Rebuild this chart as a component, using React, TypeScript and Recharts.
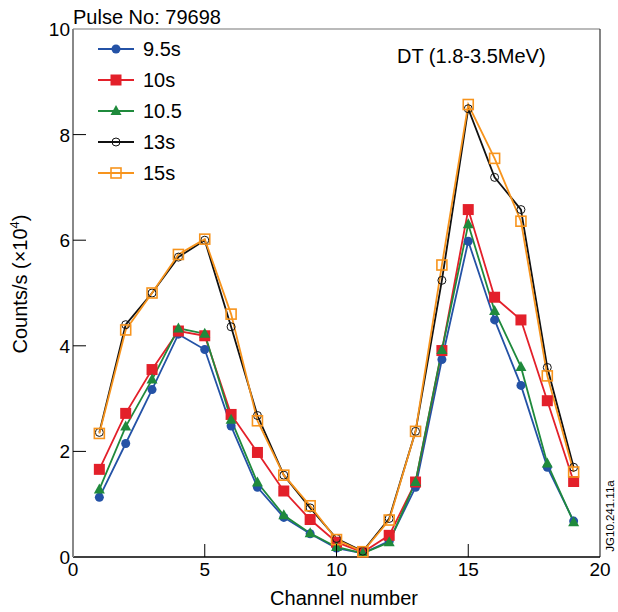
import { LineChart, Line, XAxis, YAxis, ReferenceLine } from 'recharts';

const channels = [1, 2, 3, 4, 5, 6, 7, 8, 9, 10, 11, 12, 13, 14, 15, 16, 17, 18, 19];
const s95 = [1.13, 2.15, 3.17, 4.22, 3.93, 2.48, 1.32, 0.75, 0.44, 0.17, 0.07, 0.3, 1.32, 3.74, 5.98, 4.49, 3.25, 1.7, 0.68];
const s10 = [1.66, 2.72, 3.55, 4.28, 4.19, 2.7, 1.98, 1.25, 0.71, 0.28, 0.09, 0.41, 1.42, 3.91, 6.58, 4.92, 4.49, 2.96, 1.43];
const s105 = [1.28, 2.47, 3.36, 4.33, 4.23, 2.6, 1.41, 0.79, 0.45, 0.19, 0.07, 0.28, 1.42, 3.92, 6.3, 4.66, 3.6, 1.77, 0.66];
const s13 = [2.36, 4.4, 5.0, 5.68, 6.0, 4.36, 2.68, 1.55, 0.93, 0.35, 0.11, 0.73, 2.38, 5.24, 8.49, 7.19, 6.58, 3.59, 1.7];
const s15 = [2.34, 4.3, 5.0, 5.73, 6.02, 4.6, 2.58, 1.55, 0.97, 0.33, 0.1, 0.7, 2.38, 5.53, 8.57, 7.55, 6.36, 3.43, 1.61];
const xTicks = [0, 5, 10, 15, 20];
const yTicks = [0, 2, 4, 6, 8, 10];

const data = channels.map((c, i) => ({ ch: c, a: s95[i], b: s10[i], c: s105[i], d: s13[i], e: s15[i] }));

const FONT = '"Liberation Sans", Arial, Helvetica, sans-serif';

type Shape = 'dot' | 'square' | 'tri' | 'ring' | 'box';

function marker(shape: Shape, color: string, x: number, y: number, key?: string | number) {
  switch (shape) {
    case 'dot':
      return <circle key={key} cx={x} cy={y} r={4.5} fill={color} />;
    case 'square':
      return <rect key={key} x={x - 5.5} y={y - 5.5} width={11} height={11} fill={color} />;
    case 'tri':
      return <polygon key={key} points={`${x},${y - 6} ${x - 5.5},${y + 4} ${x + 5.5},${y + 4}`} fill={color} />;
    case 'ring':
      return <circle key={key} cx={x} cy={y} r={4} fill="none" stroke={color} strokeWidth={1} />;
    default:
      return <rect key={key} x={x - 5} y={y - 5} width={10} height={10} fill="none" stroke={color} strokeWidth={1.6} />;
  }
}

const series: { key: string; name: string; color: string; shape: Shape }[] = [
  { key: 'a', name: '9.5s', color: '#2452a6', shape: 'dot' },
  { key: 'b', name: '10s', color: '#e3202a', shape: 'square' },
  { key: 'c', name: '10.5', color: '#1f8a3c', shape: 'tri' },
  { key: 'd', name: '13s', color: '#111111', shape: 'ring' },
  { key: 'e', name: '15s', color: '#f7941d', shape: 'box' },
];

const YTick = (props: any) => {
  const { x, y, payload } = props;
  const v = payload.value;
  return (
    <g>
      {v > 0 && v < 10 && <line x1={x} x2={x + 13} y1={y} y2={y} stroke="#000" strokeWidth={1} />}
      <text x={x - 3} y={y + 7} textAnchor="end" fontSize={19} fontFamily={FONT} fill="#000">
        {v}
      </text>
    </g>
  );
};

const XTick = (props: any) => {
  const { x, y, payload } = props;
  const v = payload.value;
  return (
    <g>
      {v > 0 && v < 20 && <line x1={x} x2={x} y1={y} y2={y - 13} stroke="#000" strokeWidth={1} />}
      <text x={x} y={y + 19} textAnchor="middle" fontSize={19} fontFamily={FONT} fill="#000">
        {v}
      </text>
    </g>
  );
};

// legend drawn as plain svg in the top-left corner of the plot
const LegendBox = () => (
  <g fontFamily={FONT} fontSize={20} fill="#000">
    {series.map((s, i) => {
      const y = 49 + i * 31;
      return (
        <g key={s.key}>
          <line x1={98} x2={134} y1={y} y2={y} stroke={s.color} strokeWidth={1.8} />
          {marker(s.shape, s.color, 116, y)}
          <text x={143} y={y + 7}>
            {s.name}
          </text>
        </g>
      );
    })}
  </g>
);

export default function App() {
  return (
    <div style={{ position: 'absolute', left: 0, top: 0, width: 618, height: 612, background: '#fff' }}>
      <LineChart width={618} height={612} data={data} margin={{ top: 29, right: 18, bottom: 25, left: 33 }}>
        <XAxis
          dataKey="ch"
          type="number"
          domain={[0, 20]}
          ticks={xTicks}
          height={30}
          tickLine={false}
          tickSize={0}
          tickMargin={0}
          axisLine={false}
          tick={<XTick />}
        />
        <YAxis
          type="number"
          domain={[0, 10]}
          ticks={yTicks}
          width={40}
          tickLine={false}
          tickSize={0}
          tickMargin={0}
          axisLine={false}
          tick={<YTick />}
        />
        <ReferenceLine y={10} stroke="#777" strokeWidth={1.2} />
        <ReferenceLine x={20} stroke="#333" strokeWidth={1.2} />
        <ReferenceLine y={0} stroke="#000" strokeWidth={1.5} />
        <ReferenceLine x={0} stroke="#888" strokeWidth={2} />
        {series.map((s) => (
          <Line
            key={s.key}
            dataKey={s.key}
            name={s.name}
            type="linear"
            stroke={s.color}
            strokeWidth={1.8}
            isAnimationActive={false}
            dot={(p: any) => marker(s.shape, s.color, p.cx, p.cy, p.index)}
            activeDot={false}
          />
        ))}
        <LegendBox />
        <text x={73} y={24} fontSize={20} fontFamily={FONT} fill="#000">
          Pulse No: 79698
        </text>
        <text x={397} y={63} fontSize={20} fontFamily={FONT} fill="#000">
          DT (1.8-3.5MeV)
        </text>
        <text x={344} y={605} textAnchor="middle" fontSize={20} fontFamily={FONT} fill="#000">
          Channel number
        </text>
        <text
          x={0}
          y={0}
          transform="translate(27,284) rotate(-90)"
          textAnchor="middle"
          fontSize={20}
          fontFamily={FONT}
          fill="#000"
        >
          Counts/s (×10<tspan dy={-8} fontSize={13}>4</tspan>
          <tspan dy={8}>)</tspan>
        </text>
        <text
          x={0}
          y={0}
          transform="translate(614,516) rotate(-90)"
          textAnchor="middle"
          fontSize={11.5}
          fontFamily={FONT}
          fill="#000"
        >
          JG10.241.11a
        </text>
      </LineChart>
    </div>
  );
}
